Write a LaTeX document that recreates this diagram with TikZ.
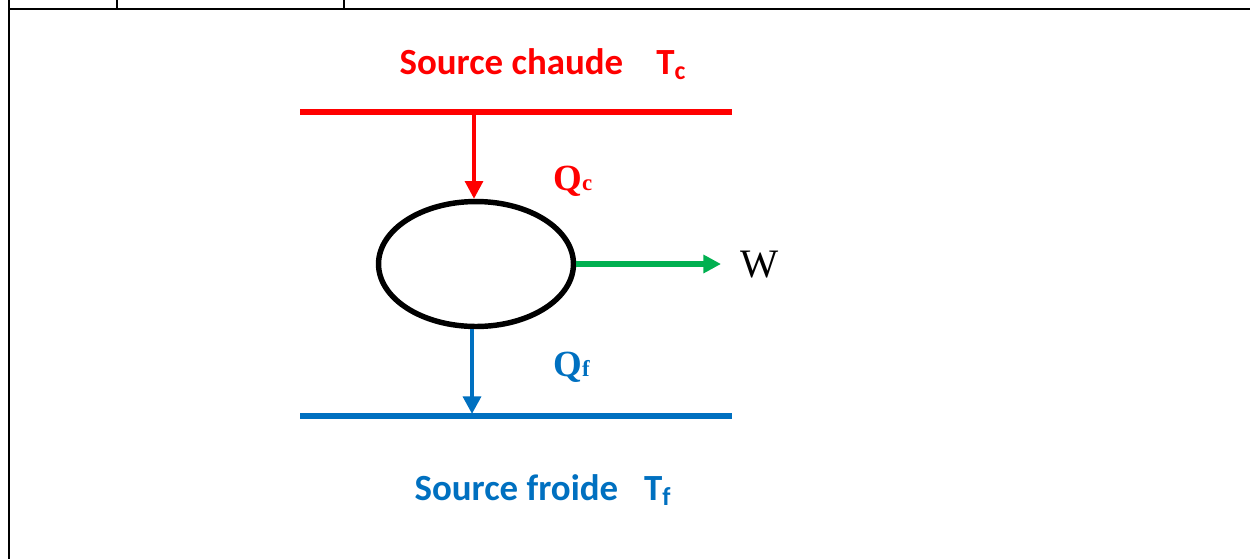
\documentclass[tikz,border=0pt]{standalone}
\usepackage{fontspec}
\usepackage{xcolor}
\setmainfont{Liberation Serif}
\newfontfamily\calibri{Carlito}
\definecolor{rouge}{RGB}{255,0,0}
\definecolor{bleu}{RGB}{0,112,192}
\definecolor{vert}{RGB}{0,176,80}
\newcommand{\FS}{\calibri\fontsize{21}{25}\selectfont\bfseries}
\newcommand{\FQ}{\fontsize{21}{25}\selectfont\bfseries}
\usetikzlibrary{shapes.geometric,arrows.meta}

\begin{document}
\begin{tikzpicture}[x=0.02cm,y=-0.02cm]
\tikzstyle{cadre}=[black,line width=1.2pt]
\tikzstyle{source}=[line width=3.2pt]
\tikzstyle{fleche}=[line width=2.8pt,-{Triangle[length=10pt,width=10pt]}]
\tikzstyle{texto}=[draw=none,fill=none,inner sep=0pt]

\useasboundingbox (0,0) rectangle (1250,559);

% cadre du tableau
\draw[cadre] (9,0) -- (9,559);
\draw[cadre] (9,9) -- (1250,9);
\draw[cadre] (117,0) -- (117,9);
\draw[cadre] (344,0) -- (344,9);

% sources
\coordinate (chA) at (300,112);
\coordinate (chB) at (732,112);
\coordinate (frA) at (300,416);
\coordinate (frB) at (732,416);
\draw[source,rouge] (chA) -- (chB);
\draw[source,bleu] (frA) -- (frB);

% moteur
\node[ellipse,draw=black,line width=3.1pt,minimum width=3.9cm,minimum height=2.5cm,inner sep=0pt] (moteur) at (476,264) {};

\coordinate (qc) at (474,112);
\coordinate (qf) at (472,414);
\coordinate (wfin) at (721,265);
\draw[fleche,rouge,line width=2.1pt] (qc) -- (moteur.north -| qc);
\draw[fleche,bleu] (moteur.south -| qf) -- (qf);
\draw[fleche,vert,line width=3.2pt] (moteur.east) -- (moteur.east -| wfin);

% textes
\node[texto,rouge,font=\FS] (chaude) at (543,64) {Source chaude\hspace{0.9em}T\textsubscript{c}};
\node[texto,bleu,font=\FS] (froide) at (543,490) {Source froide\hspace{0.7em}T\textsubscript{f}};
\node[texto,rouge,font=\FQ,anchor=base west] (Qc) at (553,190) {Q{\fontsize{13}{15}\selectfont c}};
\node[texto,bleu,font=\FQ,anchor=base west] (Qf) at (553,376) {Q{\fontsize{13}{15}\selectfont f}};
\node[texto,font=\fontsize{23}{27}\selectfont,anchor=base west] (W) at (740,277) {W};
\end{tikzpicture}
\end{document}
